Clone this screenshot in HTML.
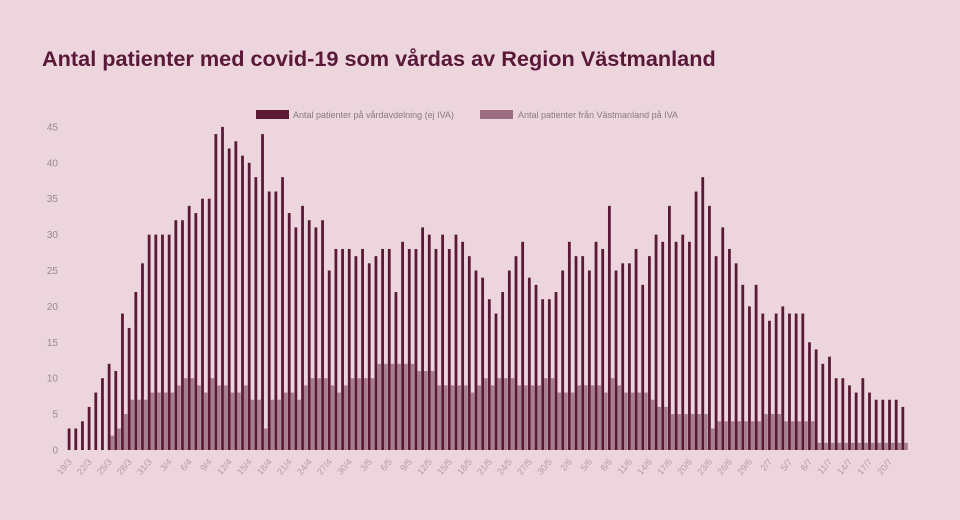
<!DOCTYPE html>
<html><head><meta charset="utf-8"><style>
body{margin:0;background:#ecd5dd;}
svg{display:block;font-family:"Liberation Sans",sans-serif;}
</style></head><body>
<svg id="chart" width="960" height="520" viewBox="0 0 960 520">
<rect width="960" height="520" fill="#ecd5dd"/>
<text x="42" y="66" font-size="21.7" font-weight="bold" fill="#5a1838">Antal patienter med covid-19 som vårdas av Region Västmanland</text>
<g>
<rect x="256" y="110" width="33" height="9" fill="#5a1a36"/>
<text x="293" y="118" font-size="9" fill="#8a7a80">Antal patienter på vårdavdelning (ej IVA)</text>
<rect x="480" y="110" width="33" height="9" fill="#9a6e80"/>
<text x="518" y="118" font-size="9" fill="#8a7a80">Antal patienter från Västmanland på IVA</text>
</g>
<g id="yaxis"></g><g id="bars"></g><g id="xaxis"></g>
</svg>
<script>
const ward=[3,3,4,6,8,10,12,11,19,17,22,26,30,30,30,30,32,32,34,33,35,35,44,45,42,43,41,40,38,44,36,36,38,33,31,34,32,31,32,25,28,28,
28,27,28,26,27,28,28,22,29,28,28,31,30,28,30,28,30,29,27,25,24,21,19,22,25,27,29,24,23,21,21,22,25,29,27,27,25,29,28,34,25,26,26,28,23,
27,30,29,34,29,30,29,36,38,34,27,31,28,26,23,20,23,19,18,19,20,19,19,19,15,14,12,13,10,10,9,8,10,8,7,7,7,7,6];
const iva=[0,0,0,0,0,0,2,3,5,7,7,7,8,8,8,8,9,10,10,9,8,10,9,9,8,8,9,7,7,3,7,7,8,8,7,9,10,10,10,9,8,9,
10,10,10,10,12,12,12,12,12,12,11,11,11,9,9,9,9,9,8,9,10,9,10,10,10,9,9,9,9,10,10,8,8,8,9,9,9,9,8,10,9,8,8,8,8,
7,6,6,5,5,5,5,5,5,3,4,4,4,4,4,4,4,5,5,5,4,4,4,4,4,1,1,1,1,1,1,1,1,1,1,1,1,1,1];
const yTicks=[0,5,10,15,20,25,30,35,40,45];
const startDay=19, startMonth=3;
const NS="http://www.w3.org/2000/svg";
const x0=69.3, step=6.67, yBase=450, yPer=7.18;
const xs=i=>x0+i*step, ys=v=>yBase-v*yPer;
function mk(t,a,p){const e=document.createElementNS(NS,t);for(const k in a)e.setAttribute(k,a[k]);p.appendChild(e);return e;}
const ya=document.getElementById('yaxis');
yTicks.forEach(t=>{const e=mk('text',{x:58,y:ys(t)+3.5,'text-anchor':'end','font-size':10,fill:'#9a8a90'},ya);


e.textContent=t;});
const bg=document.getElementById('bars');
ward.forEach((v,i)=>{
const b=mk('rect',{x:xs(i)-1.6,y:ys(v),width:2.8,height:v*yPer,fill:'#5a1a36'},bg);


});
iva.forEach((v,i)=>{
const b=mk('rect',{x:xs(i)+1.2,y:ys(v),width:3.6,height:v*yPer,fill:'#9a6e80',opacity:0.85},bg);


});
const xa=document.getElementById('xaxis');
const mdays={3:31,4:30,5:31,6:30,7:31};
let d=startDay,m=startMonth;
for(let i=0;i<ward.length;i++){
if(i%3===0){const x=xs(i);const e=mk('text',{x:x+3,y:462,'text-anchor':'end','font-size':9,fill:'#b99aa6',transform:`rotate(-50 ${x+3} 462)`},xa);


e.textContent=d+'/'+m;}
d++;if(d>mdays[m]){d=1;m++;}
}
</script>
</body></html>
